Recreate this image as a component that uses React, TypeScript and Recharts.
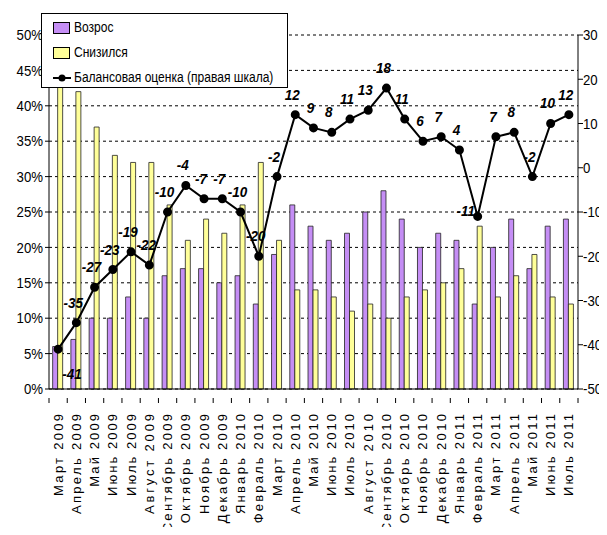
import React from "react";
import { ComposedChart, Bar, Line, XAxis, YAxis, CartesianGrid, Legend, LabelList } from "recharts";

const months = [
  "Март 2009", "Апрель 2009", "Май 2009", "Июнь 2009", "Июль 2009", "Август 2009",
  "Сентябрь 2009", "Октябрь 2009", "Ноябрь 2009", "Декабрь 2009", "Январь 2010",
  "Февраль 2010", "Март 2010", "Апрель 2010", "Май 2010", "Июнь 2010", "Июль 2010",
  "Август 2010", "Сентябрь 2010", "Октябрь 2010", "Ноябрь 2010", "Декабрь 2010",
  "Январь 2011", "Февраль 2011", "Март 2011", "Апрель 2011", "Май 2011", "Июнь 2011",
  "Июль 2011",
];
const rose = [6, 7, 10, 10, 13, 10, 16, 17, 17, 15, 16, 12, 19, 26, 23, 21, 22, 25, 28, 24, 20, 22, 21, 12, 20, 24, 17, 23, 24];
const fell = [47, 42, 37, 33, 32, 32, 26, 21, 24, 22, 26, 32, 21, 14, 14, 13, 11, 12, 10, 13, 14, 15, 17, 23, 13, 16, 19, 13, 12];
const balance = [-41, -35, -27, -23, -19, -22, -10, -4, -7, -7, -10, -20, -2, 12, 9, 8, 11, 13, 18, 11, 6, 7, 4, -11, 7, 8, -2, 10, 12];
const leftTicks = [0, 5, 10, 15, 20, 25, 30, 35, 40, 45, 50];
const rightTicks = [-50, -40, -30, -20, -10, 0, 10, 20, 30];

const data = months.map((m, i) => ({ month: m, rose: rose[i], fell: fell[i], balance: balance[i] }));

const FONT = "'Liberation Sans', Arial, sans-serif";
const PLOT_LEFT = 49;
const PLOT_RIGHT = 578;
const BAND = (PLOT_RIGHT - PLOT_LEFT) / months.length;

const MonthTick = (props: any) => {
  const { x, y, payload, index } = props;
  const isLast = index === months.length - 1;
  const label: string = payload.value;
  const ty = y + 17;
  return (
    <g>
      <line x1={x - BAND / 2} y1={y + 1} x2={x - BAND / 2} y2={y + 6} stroke="#000" />
      {isLast && <line x1={x + BAND / 2} y1={y + 1} x2={x + BAND / 2} y2={y + 6} stroke="#000" />}
      <text
        x={x}
        y={ty}
        transform={`rotate(-90 ${x} ${ty})`}
        textAnchor="end"
        dominantBaseline="central"
        fontSize={13}
        textLength={label.length * 9.1}
        lengthAdjust="spacing"
        fontFamily={FONT}
        fill="#000"
      >
        {label}
      </text>
    </g>
  );
};

const RightTick = (props: any) => {
  const { x, y, payload } = props;
  const tx = x - 2;
  return (
    <text x={tx} y={y} dominantBaseline="central" fontSize={15} fontFamily={FONT} fill="#000"
      transform={`translate(${tx} 0) scale(0.88 1) translate(${-tx} 0)`}>
      {payload.value}
    </text>
  );
};

const LeftTick = (props: any) => {
  const { x, y, payload } = props;
  return (
    <text x={x} y={y} textAnchor="end" dominantBaseline="central" fontSize={15} fontFamily={FONT} fill="#000"
      transform={`translate(${x} 0) scale(0.88 1) translate(${-x} 0)`}>
      {`${payload.value}%`}
    </text>
  );
};

const BalanceLabel = (props: any) => {
  const { x, y, value, index } = props;
  let dx = -3;
  let dy = -15;
  if (index === 0) { dx = 14; dy = 30; }
  if (index === 23) { dx = -12; dy = 0; }
  return (
    <text x={x + dx} y={y + dy} textAnchor="middle" fontSize={15} fontWeight="bold" fontStyle="italic" fontFamily={FONT} fill="#000"
      transform={`translate(${x + dx} 0) scale(0.9 1) translate(${-(x + dx)} 0)`}>
      {value}
    </text>
  );
};

const LegendText = ({ children }: { children: React.ReactNode }) => (
  <span style={{ display: "inline-block", flexShrink: 0, whiteSpace: "nowrap", transform: "scaleX(0.86)", transformOrigin: "left center" }}>
    {children}
  </span>
);

const LegendBox = () => (
  <div
    style={{
      position: "absolute",
      left: 41,
      top: 13,
      width: 247,
      height: 75,
      background: "#fff",
      border: "1px solid #000",
      fontFamily: FONT,
      fontSize: 14,
      lineHeight: "25px",
      boxSizing: "border-box",
      paddingLeft: 11,
      paddingTop: 1,
      overflow: "hidden",
    }}
  >
    <div style={{ display: "flex", alignItems: "center" }}>
      <span style={{ display: "inline-block", flexShrink: 0, width: 15, height: 10, background: "#C58EF5", border: "1px solid #000", marginRight: 4 }} />
      <LegendText>Возрос</LegendText>
    </div>
    <div style={{ display: "flex", alignItems: "center" }}>
      <span style={{ display: "inline-block", flexShrink: 0, width: 15, height: 10, background: "#FFFF99", border: "1px solid #000", marginRight: 4 }} />
      <LegendText>Снизился</LegendText>
    </div>
    <div style={{ display: "flex", alignItems: "center" }}>
      <svg width={18} height={10} style={{ marginRight: 3, flexShrink: 0 }}>
        <line x1={0} y1={5} x2={18} y2={5} stroke="#000" strokeWidth={2} />
        <circle cx={9} cy={5} r={3.5} fill="#000" />
      </svg>
      <LegendText>Балансовая оценка (правая шкала)</LegendText>
    </div>
  </div>
);

export default function App() {
  return (
    <div style={{ margin: -8, position: "relative", width: 607, height: 535, overflow: "hidden", background: "#fff" }}>
      <ComposedChart
        width={607}
        height={535}
        data={data}
        margin={{ top: 35, left: 5, right: 0, bottom: 0 }}
        barCategoryGap="20%"
        barGap={0}
      >
        <CartesianGrid stroke="#000" strokeDasharray="3 3" vertical={false} yAxisId="left" />
        <XAxis
          dataKey="month"
          interval={0}
          height={146}
          tickLine={false}
          tick={<MonthTick />}
          axisLine={{ stroke: "#000" }}
        />
        <YAxis
          yAxisId="left"
          domain={[0, 50]}
          ticks={leftTicks}
          width={44}
          axisLine={{ stroke: "#000" }}
          tickLine={{ stroke: "#000" }}
          tickSize={4}
          tick={<LeftTick />}
          interval={0}
        />
        <YAxis
          yAxisId="right"
          orientation="right"
          domain={[-50, 30]}
          ticks={rightTicks}
          width={29}
          axisLine={{ stroke: "#000" }}
          tickLine={{ stroke: "#000" }}
          tickSize={5}
          tick={<RightTick />}
          interval={0}
        />
        <Legend content={() => null} />
        <Bar yAxisId="left" dataKey="rose" name="Возрос" fill="#C58EF5" stroke="#222" strokeWidth={0.8} isAnimationActive={false} />
        <Bar yAxisId="left" dataKey="fell" name="Снизился" fill="#FFFF99" stroke="#222" strokeWidth={0.8} isAnimationActive={false} />
        <Line
          yAxisId="right"
          dataKey="balance"
          name="Балансовая оценка (правая шкала)"
          stroke="#000"
          strokeWidth={2}
          dot={{ r: 3.5, fill: "#000", stroke: "#000" }}
          isAnimationActive={false}
        >
          <LabelList dataKey="balance" content={<BalanceLabel />} />
        </Line>
      </ComposedChart>
      <LegendBox />
    </div>
  );
}
